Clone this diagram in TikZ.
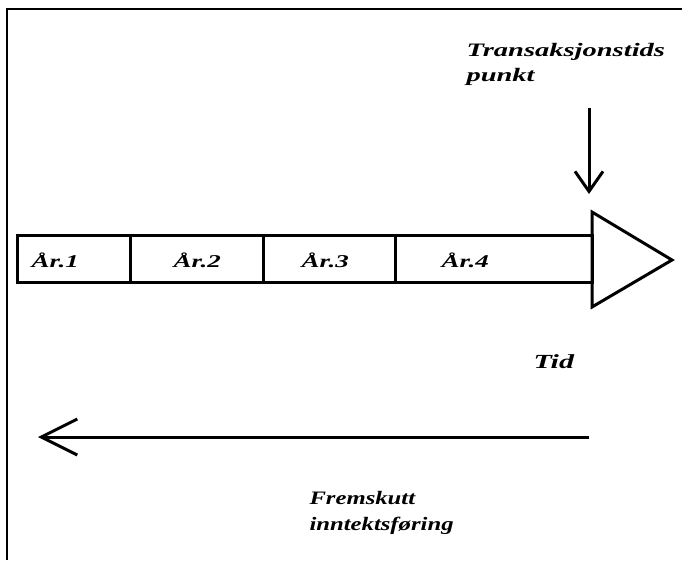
\documentclass[tikz,border=0pt]{standalone}
\usepackage{fontspec}
\setmainfont{Liberation Serif}
\newfontfamily\widefont[FakeStretch=1.5]{Liberation Serif}
\newfontfamily\midfont[FakeStretch=1.3]{Liberation Serif}
\usetikzlibrary{arrows.meta}
\begin{document}
\begin{tikzpicture}[x=1pt,y=-1pt, line width=3pt, line join=miter,
  lbl/.style={font=\widefont\fontsize{19}{25}\selectfont\bfseries\itshape, inner sep=0pt, anchor=north west, align=left},
  yr/.style={font=\widefont\fontsize{18}{21}\selectfont\bfseries\itshape, inner sep=0pt, anchor=base west},
  arr/.style={-{Straight Barb[length=20pt,width=28pt]}},
  arrbig/.style={-{Straight Barb[length=36pt,width=36pt]}}]
\useasboundingbox (0,0) rectangle (682,560);
\draw[line width=2.5pt] (7,560) -- (7,9) -- (682,9);
% timeline bar
\draw (17,235) rectangle (592,282);
\draw (130,235) -- (130,282);
\draw (263,235) -- (263,282);
\draw (395,235) -- (395,282);
\draw (592,212) -- (672,260) -- (592,307) -- cycle;
\node[yr] (y1) at (30,267) {År.1};
\node[yr] (y2) at (172,267) {År.2};
\node[yr] (y3) at (300,267) {År.3};
\node[yr] (y4) at (440,267) {År.4};
% labels
\node[lbl] (tp) at (465,42) {Transaksjonstids\\punkt};
\node[yr, font=\widefont\fontsize{20}{22}\selectfont\bfseries\itshape] (tid) at (532,368) {Tid};
\node[lbl, font=\midfont\fontsize{19}{26}\selectfont\bfseries\itshape] (fi) at (308,490) {Fremskutt\\inntektsføring};
% arrows
\coordinate (d1) at (589,108);
\coordinate (d2) at (589,194);
\draw[arr] (d1) -- (d2);
\coordinate (l1) at (589,437);
\coordinate (l2) at (38,437);
\draw[arrbig] (l1) -- (l2);
\end{tikzpicture}
\end{document}
